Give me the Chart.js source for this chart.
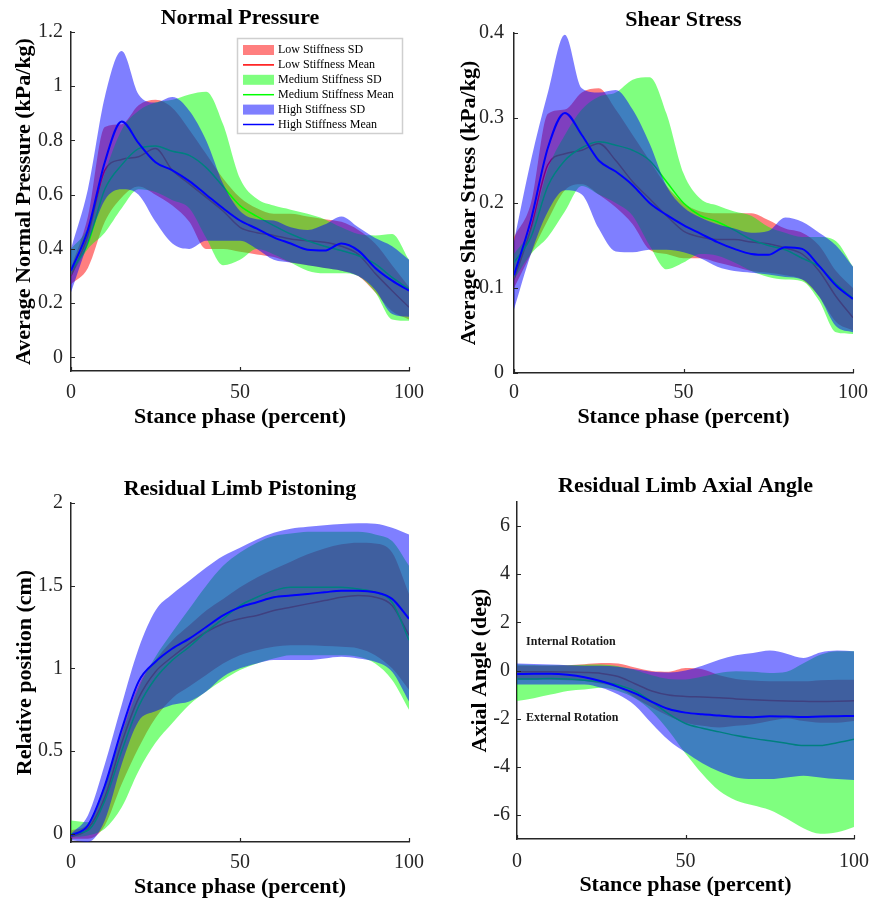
<!DOCTYPE html>
<html>
<head>
<meta charset="utf-8">
<script src="https://cdn.jsdelivr.net/npm/chart.js@4.4.1/dist/chart.umd.min.js"></script>
<style>
html,body{margin:0;padding:0;background:#fff;}
#wrap{position:relative;width:871px;height:901px;overflow:hidden;background:#fff;}
canvas{position:absolute;}
</style>
</head>
<body>
<div id="wrap">
<canvas id="c1" width="435" height="450" style="left:0px;top:0px"></canvas>
<canvas id="c2" width="435" height="450" style="left:436px;top:0px"></canvas>
<canvas id="c3" width="435" height="451" style="left:0px;top:450px"></canvas>
<canvas id="c4" width="435" height="451" style="left:436px;top:450px"></canvas>
</div>
<script>
// ---------- data ----------
const phase = [0,5,10,15,20,25,30,35,40,45,50,55,60,65,70,75,80,85,90,95,100];
const xTickValues = [0,50,100];
const legendLabels = ['Low Stiffness SD','Low Stiffness Mean','Medium Stiffness SD','Medium Stiffness Mean','High Stiffness SD','High Stiffness Mean'];

// Normal Pressure
const npYTicks = [0,0.2,0.4,0.6,0.8,1,1.2];
const npLowUpper = [0.33,0.52,0.85,0.86,0.93,0.95,0.92,0.84,0.75,0.66,0.59,0.55,0.53,0.53,0.52,0.51,0.50,0.47,0.42,0.34,0.26];
const npLowMean  = [0.30,0.45,0.69,0.73,0.74,0.77,0.69,0.64,0.59,0.54,0.48,0.46,0.45,0.437,0.43,0.425,0.41,0.38,0.31,0.246,0.185];
const npLowLower = [0.27,0.33,0.50,0.59,0.63,0.60,0.56,0.50,0.40,0.40,0.39,0.38,0.37,0.35,0.34,0.33,0.32,0.30,0.24,0.17,0.14];
const npMedUpper = [0.40,0.48,0.68,0.84,0.91,0.94,0.95,0.97,0.98,0.86,0.66,0.585,0.56,0.545,0.53,0.51,0.48,0.455,0.45,0.455,0.36];
const npMedMean  = [0.32,0.42,0.62,0.71,0.77,0.78,0.76,0.745,0.70,0.63,0.56,0.52,0.486,0.455,0.43,0.41,0.394,0.375,0.345,0.295,0.252];
const npMedLower = [0.30,0.40,0.46,0.55,0.62,0.61,0.58,0.55,0.44,0.34,0.36,0.40,0.38,0.35,0.32,0.31,0.31,0.30,0.24,0.14,0.135];
const npHighUpper = [0.40,0.62,0.96,1.13,0.97,0.94,0.96,0.91,0.80,0.64,0.54,0.51,0.505,0.48,0.47,0.49,0.52,0.48,0.44,0.41,0.36];
const npHighMean  = [0.32,0.47,0.72,0.87,0.79,0.72,0.69,0.65,0.60,0.55,0.505,0.475,0.443,0.42,0.397,0.394,0.42,0.394,0.33,0.283,0.246];
const npHighLower = [0.24,0.42,0.58,0.62,0.60,0.50,0.42,0.40,0.43,0.43,0.43,0.40,0.36,0.35,0.34,0.33,0.32,0.30,0.25,0.16,0.15];

// Shear Stress
const ssYTicks = [0,0.1,0.2,0.3,0.4];
const ssLowUpper = [0.16,0.20,0.305,0.31,0.33,0.335,0.31,0.28,0.25,0.22,0.20,0.19,0.188,0.188,0.188,0.18,0.17,0.165,0.15,0.12,0.10];
const ssLowMean  = [0.11,0.17,0.245,0.258,0.262,0.27,0.25,0.225,0.205,0.185,0.167,0.16,0.157,0.157,0.154,0.152,0.147,0.14,0.12,0.09,0.065];
const ssLowLower = [0.10,0.14,0.18,0.215,0.222,0.21,0.195,0.175,0.145,0.14,0.135,0.135,0.13,0.125,0.12,0.118,0.115,0.11,0.09,0.06,0.05];
const ssMedUpper = [0.14,0.17,0.24,0.28,0.31,0.325,0.33,0.345,0.348,0.305,0.235,0.205,0.197,0.19,0.185,0.172,0.165,0.16,0.16,0.155,0.125];
const ssMedMean  = [0.13,0.16,0.22,0.25,0.265,0.272,0.268,0.262,0.25,0.225,0.20,0.185,0.178,0.168,0.157,0.15,0.145,0.135,0.125,0.105,0.088];
const ssMedLower = [0.11,0.14,0.16,0.19,0.22,0.21,0.20,0.185,0.15,0.122,0.13,0.14,0.138,0.13,0.12,0.113,0.11,0.108,0.085,0.048,0.046];
const ssHighUpper = [0.155,0.25,0.33,0.398,0.335,0.33,0.333,0.31,0.27,0.22,0.195,0.183,0.175,0.17,0.165,0.167,0.183,0.178,0.165,0.15,0.125];
const ssHighMean  = [0.115,0.18,0.265,0.306,0.28,0.25,0.237,0.221,0.20,0.186,0.174,0.164,0.154,0.146,0.14,0.139,0.148,0.146,0.126,0.103,0.087];
const ssHighLower = [0.075,0.14,0.19,0.215,0.21,0.17,0.143,0.142,0.145,0.145,0.142,0.135,0.125,0.12,0.118,0.116,0.113,0.11,0.09,0.055,0.048];

// Residual Limb Pistoning
const plYTicks = [0,0.5,1,1.5,2];
const plLowUpper = [0.02,0.06,0.30,0.62,0.90,1.05,1.17,1.26,1.35,1.42,1.49,1.55,1.60,1.645,1.69,1.725,1.75,1.76,1.755,1.70,1.45];
const plLowMean  = [-0.02,0.03,0.22,0.55,0.82,0.98,1.07,1.15,1.22,1.27,1.30,1.32,1.35,1.37,1.39,1.41,1.43,1.44,1.43,1.38,1.20];
const plLowLower = [-0.03,-0.03,0.05,0.30,0.52,0.70,0.82,0.89,0.96,1.03,1.08,1.11,1.13,1.14,1.14,1.135,1.13,1.12,1.08,1.00,0.87];
const plMedUpper = [0.08,0.07,0.28,0.60,0.88,1.07,1.22,1.36,1.50,1.62,1.70,1.76,1.80,1.815,1.826,1.826,1.826,1.826,1.81,1.77,1.62];
const plMedMean  = [0.0,0.02,0.20,0.50,0.77,0.94,1.05,1.13,1.22,1.30,1.38,1.43,1.47,1.49,1.49,1.49,1.49,1.48,1.46,1.40,1.17];
const plMedLower = [-0.02,-0.01,0.03,0.16,0.38,0.55,0.67,0.78,0.86,0.93,0.99,1.03,1.06,1.08,1.08,1.08,1.08,1.07,1.03,0.93,0.75];
const plHighUpper = [0.0,0.11,0.42,0.78,1.12,1.35,1.45,1.53,1.61,1.68,1.73,1.78,1.82,1.845,1.856,1.866,1.873,1.877,1.875,1.85,1.81];
const plHighMean  = [-0.01,0.05,0.29,0.63,0.92,1.04,1.12,1.18,1.25,1.32,1.37,1.40,1.43,1.44,1.45,1.46,1.47,1.47,1.46,1.42,1.30];
const plHighLower = [-0.04,-0.05,0.08,0.42,0.68,0.74,0.78,0.80,0.86,0.95,1.00,1.03,1.05,1.05,1.05,1.06,1.07,1.06,1.04,0.98,0.80];

// Residual Limb Axial Angle
const aaYTicks = [-6,-4,-2,0,2,4,6];
const aaLowUpper = [0.20,0.20,0.20,0.22,0.26,0.31,0.29,0.12,-0.02,-0.05,0.10,0.05,-0.20,-0.35,-0.42,-0.45,-0.45,-0.45,-0.40,-0.38,-0.38];
const aaLowMean  = [-0.05,-0.05,-0.05,-0.06,-0.08,-0.12,-0.25,-0.55,-0.85,-1.02,-1.08,-1.10,-1.13,-1.18,-1.22,-1.25,-1.27,-1.28,-1.29,-1.28,-1.26];
const aaLowLower = [-0.37,-0.37,-0.38,-0.40,-0.44,-0.55,-0.72,-1.13,-1.54,-1.89,-2.17,-2.30,-2.37,-2.30,-2.23,-2.10,-1.99,-2.10,-2.17,-2.17,-2.10];
const aaMedUpper = [0.25,0.23,0.22,0.22,0.24,0.25,0.18,0.02,-0.20,-0.35,-0.37,-0.25,-0.10,-0.03,-0.05,-0.10,-0.05,0.30,0.65,0.80,0.80];
const aaMedMean  = [-0.35,-0.35,-0.33,-0.35,-0.40,-0.48,-0.60,-0.85,-1.30,-1.80,-2.20,-2.40,-2.55,-2.70,-2.82,-2.92,-3.02,-3.12,-3.12,-3.00,-2.86];
const aaMedLower = [-1.27,-1.15,-1.00,-0.85,-0.79,-0.72,-0.85,-1.15,-1.70,-2.50,-3.45,-4.30,-5.00,-5.40,-5.60,-5.80,-6.15,-6.55,-6.78,-6.72,-6.50];
const aaHighUpper = [0.29,0.27,0.25,0.22,0.20,0.20,0.16,0.05,-0.05,-0.08,0.00,0.20,0.45,0.63,0.73,0.83,0.70,0.52,0.75,0.83,0.80];
const aaHighMean  = [-0.15,-0.14,-0.14,-0.18,-0.28,-0.45,-0.68,-0.95,-1.30,-1.60,-1.75,-1.82,-1.87,-1.92,-1.94,-1.90,-1.91,-1.93,-1.91,-1.90,-1.89];
const aaHighLower = [-0.58,-0.58,-0.58,-0.58,-0.58,-0.72,-1.00,-1.45,-2.20,-2.90,-3.40,-3.85,-4.20,-4.44,-4.51,-4.51,-4.44,-4.37,-4.44,-4.51,-4.55];

const noteTexts = ['Internal Rotation','External Rotation'];
const noteX = [2.7, 2.7];
const noteY = [1.17, -1.96];

// ---------- styling ----------
const FONT = "'Liberation Serif','Times New Roman',Times,serif";
const AXIS = '#262626';
const RED_FILL = 'rgba(255,0,0,0.5)', GREEN_FILL = 'rgba(0,255,0,0.5)', BLUE_FILL = 'rgba(0,0,255,0.5)';
const NONE = 'rgba(0,0,0,0)';
Chart.defaults.font.family = FONT;

function pts(arr){ return phase.map((x,i)=>({x:x, y:arr[i]})); }

function group(upper, lower, mean, fillC, lineC, ord, lw){
  const common = {pointRadius:0, pointHoverRadius:0, cubicInterpolationMode:'monotone'};
  return [
    Object.assign({data:pts(upper), fill:'+1', backgroundColor:fillC, borderColor:NONE, borderWidth:0, order:ord+1}, common),
    Object.assign({data:pts(lower), fill:false, backgroundColor:NONE, borderColor:NONE, borderWidth:0, order:ord+1}, common),
    Object.assign({data:pts(mean), fill:false, backgroundColor:NONE, borderColor:lineC, borderWidth:lw, order:ord}, common)
  ];
}

const inwardTicks = {
  id:'inwardTicks',
  afterDraw(chart){
    const ctx = chart.ctx, a = chart.chartArea, xs = chart.scales.x, ys = chart.scales.y;
    ctx.save(); ctx.strokeStyle = AXIS; ctx.lineWidth = 1.2; ctx.beginPath();
    xs.ticks.forEach(t=>{ const p = Math.round(xs.getPixelForValue(t.value))+0.5; ctx.moveTo(p, a.bottom); ctx.lineTo(p, a.bottom-4); });
    ys.ticks.forEach(t=>{ const p = Math.round(ys.getPixelForValue(t.value))+0.5; ctx.moveTo(a.left, p); ctx.lineTo(a.left+4, p); });
    ctx.stroke(); ctx.restore();
  }
};

const boxLegend = {
  id:'boxLegend',
  afterDraw(chart){
    const ctx = chart.ctx; const bx = 237, by = 38, bw = 165, bh = 95;
    ctx.save();
    ctx.fillStyle = '#fff'; ctx.fillRect(bx, by, bw, bh);
    ctx.strokeStyle = '#cfcfcf'; ctx.lineWidth = 1.5; ctx.strokeRect(bx+0.5, by+0.5, bw, bh);
    const kinds = [['f',RED_FILL],['l','#ff0000'],['f',GREEN_FILL],['l','#00ff00'],['f',BLUE_FILL],['l','#0000ff']];
    ctx.font = '12px ' + FONT; ctx.textBaseline = 'middle'; ctx.textAlign = 'left';
    legendLabels.forEach((t,i)=>{
      const cy = by + 12 + i*14.9;
      if (kinds[i][0] === 'f') { ctx.fillStyle = kinds[i][1]; ctx.fillRect(243, cy-5, 31, 10); }
      else { ctx.strokeStyle = kinds[i][1]; ctx.lineWidth = 1.5; ctx.beginPath(); ctx.moveTo(243, cy); ctx.lineTo(274, cy); ctx.stroke(); }
      ctx.fillStyle = '#000'; ctx.fillText(t, 278, cy);
    });
    ctx.restore();
  }
};

const rotationNotes = {
  id:'rotationNotes',
  afterDatasetsDraw(chart){
    const ctx = chart.ctx, xs = chart.scales.x, ys = chart.scales.y;
    ctx.save(); ctx.font = 'bold 12px ' + FONT; ctx.fillStyle = '#1a1a1a';
    ctx.textBaseline = 'middle'; ctx.textAlign = 'left';
    noteTexts.forEach((t,i)=> ctx.fillText(t, xs.getPixelForValue(noteX[i]), ys.getPixelForValue(noteY[i])));
    ctx.restore();
  }
};

function build(id, c){
  const datasets = [].concat(
    group(c.lowU, c.lowL, c.lowM, RED_FILL, '#ff0000', 5, 1.5),
    group(c.medU, c.medL, c.medM, GREEN_FILL, '#00ff00', 3, 1.5),
    group(c.highU, c.highL, c.highM, BLUE_FILL, '#0000ff', 1, 2)
  );
  return new Chart(document.getElementById(id), {
    type:'line',
    data:{datasets:datasets},
    options:{
      responsive:false, animation:false, devicePixelRatio:1, events:[],
      layout:{padding:{left:0, right:c.padR, top:0, bottom:0}},
      plugins:{
        legend:{display:false}, tooltip:{enabled:false},
        title:{display:true, text:c.title, fullSize:false, color:'#000',
               font:{family:FONT, size:22, weight:'bold', lineHeight:1.1}, padding:{top:c.tTop, bottom:c.tBot}}
      },
      scales:{
        x:{type:'linear', min:0, max:100,
           grid:{display:false, drawTicks:false, tickLength:0}, border:{display:true, color:AXIS, width:1.5},
           afterBuildTicks:(s)=>{ s.ticks = xTickValues.map(v=>({value:v})); },
           ticks:{font:{family:FONT, size:20}, color:AXIS, padding:c.xPad, maxRotation:0, autoSkip:false, callback:(v)=>String(v)},
           title:{display:true, text:'Stance phase (percent)', color:'#000',
                  font:{family:FONT, size:22, weight:'bold'}, padding:{top:0, bottom:c.xtPad}},
           afterFit:(s)=>{ s.height = c.xH; s.paddingLeft = 0; s.paddingRight = 0; }},
        y:{type:'linear', min:c.yMin, max:c.yMax,
           grid:{display:false, drawTicks:false, tickLength:0}, border:{display:true, color:AXIS, width:1.5},
           afterBuildTicks:(s)=>{ s.ticks = c.yTicks.map(v=>({value:v})); },
           ticks:{font:{family:FONT, size:20}, color:AXIS, padding:c.yPad, autoSkip:false, callback:(v)=>String(v)},
           title:{display:true, text:c.yTitle, color:'#000',
                  font:{family:FONT, size:22, weight:'bold'}, padding:{top:c.ytPad, bottom:0}},
           afterFit:(s)=>{ s.width = c.yW; s.paddingTop = 0; s.paddingBottom = 0; }}
      }
    },
    plugins:[inwardTicks].concat(c.extra || [])
  });
}

build('c1', {title:'Normal Pressure', yTitle:'Average Normal Pressure (kPa/kg)', yMin:-0.05, yMax:1.2, yTicks:npYTicks,
  lowU:npLowUpper, lowL:npLowLower, lowM:npLowMean, medU:npMedUpper, medL:npMedLower, medM:npMedMean,
  highU:npHighUpper, highL:npHighLower, highM:npHighMean,
  padR:26, yW:71, xH:79, tTop:6.4, tBot:1.4, xPad:10, yPad:8, xtPad:19, ytPad:11, extra:[boxLegend]});

build('c2', {title:'Shear Stress', yTitle:'Average Shear Stress (kPa/kg)', yMin:0, yMax:0.4, yTicks:ssYTicks,
  lowU:ssLowUpper, lowL:ssLowLower, lowM:ssLowMean, medU:ssMedUpper, medL:ssMedLower, medM:ssMedMean,
  highU:ssHighUpper, highL:ssHighLower, highM:ssHighMean,
  padR:18, yW:78, xH:77, tTop:8.4, tBot:0.4, xPad:8, yPad:10, xtPad:19, ytPad:20});

build('c3', {title:'Residual Limb Pistoning', yTitle:'Relative position (cm)', yMin:-0.05, yMax:2, yTicks:plYTicks,
  lowU:plLowUpper, lowL:plLowLower, lowM:plLowMean, medU:plMedUpper, medL:plMedLower, medM:plMedMean,
  highU:plHighUpper, highL:plHighLower, highM:plHighMean,
  padR:26, yW:71, xH:59, tTop:27.4, tBot:1.4, xPad:9, yPad:8, xtPad:0, ytPad:12});

build('c4', {title:'Residual Limb Axial Angle', yTitle:'Axial Angle (deg)', yMin:-7, yMax:7, yTicks:aaYTicks,
  lowU:aaLowUpper, lowL:aaLowLower, lowM:aaLowMean, medU:aaMedUpper, medL:aaMedLower, medM:aaMedMean,
  highU:aaHighUpper, highL:aaHighLower, highM:aaHighMean,
  padR:17, yW:81, xH:62, tTop:24.4, tBot:3.4, xPad:11, yPad:7, xtPad:2, ytPad:31, extra:[rotationNotes]});
</script>
</body>
</html>
